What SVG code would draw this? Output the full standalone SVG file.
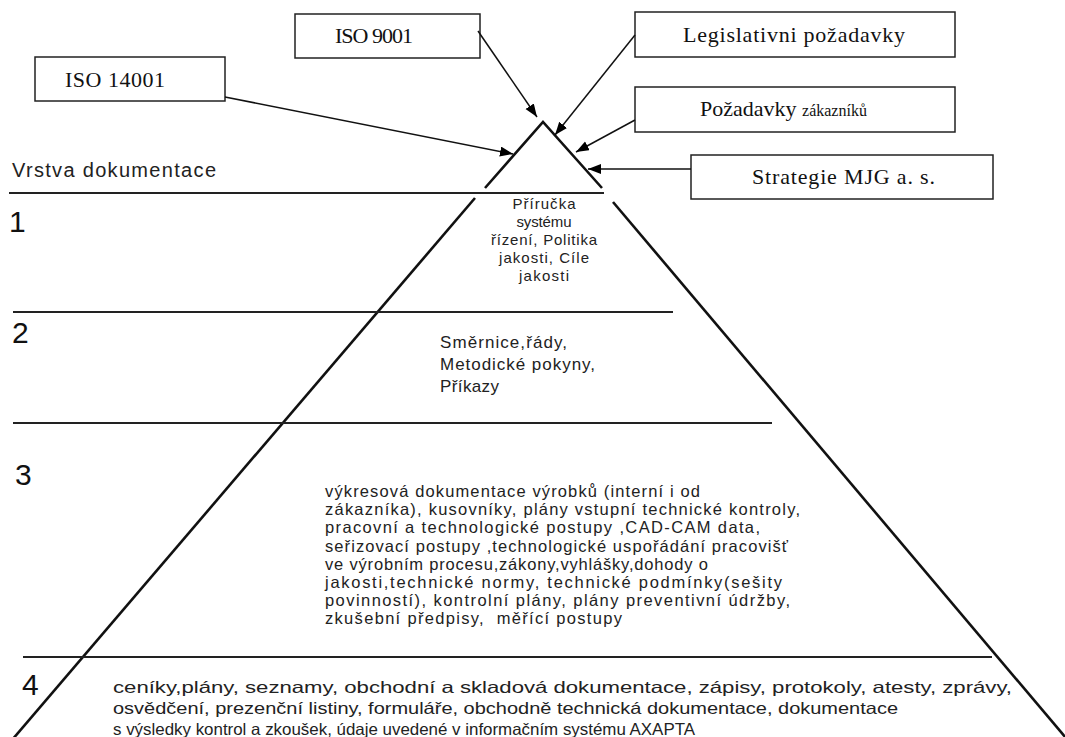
<svg xmlns="http://www.w3.org/2000/svg" width="1065" height="737" viewBox="0 0 1065 737">
<defs>
<marker id="ah" markerUnits="userSpaceOnUse" markerWidth="14" markerHeight="12" refX="13" refY="5" orient="auto">
<path d="M0,0 L13,5 L0,10 z" fill="#000"/>
</marker>
<style>
.box{fill:#fff;stroke:#222;stroke-width:1.5}
.bt{font-family:"Liberation Serif","Times New Roman",serif;font-size:22px;fill:#111}
.conn{stroke:#111;stroke-width:1.5;fill:none;marker-end:url(#ah)}
.sep{stroke:#222;stroke-width:1.8}
.leg{stroke:#111;stroke-width:2.6;fill:none}
.num{font-family:"Liberation Sans",Arial,sans-serif;font-size:30px;fill:#111}
.lab{font-family:"Liberation Sans",Arial,sans-serif;font-size:20px;fill:#222}
.t1{font-family:"Liberation Sans",Arial,sans-serif;font-size:15px;fill:#222}
.t2{font-family:"Liberation Sans",Arial,sans-serif;font-size:17px;fill:#222}
.t3{font-family:"Liberation Sans",Arial,sans-serif;font-size:16.5px;fill:#222}
.t4{font-family:"Liberation Sans",Arial,sans-serif;font-size:16.5px;fill:#222}
</style>
</defs>
<rect width="1065" height="737" fill="#fff"/>

<g id="pyramid">
<polyline class="leg" points="485,188 543,122 602,188"/>
<line class="leg" x1="475" y1="198" x2="12" y2="740"/>
<line class="leg" x1="613" y1="202" x2="1066" y2="738"/>
<line class="sep" x1="9" y1="193" x2="604" y2="193"/>
<line class="sep" x1="13" y1="312" x2="673" y2="312"/>
<line class="sep" x1="13" y1="423" x2="772" y2="423"/>
<line class="sep" x1="23" y1="657" x2="992" y2="657"/>
</g>

<g id="layer-labels">
<text class="lab" x="12" y="177" textLength="204">Vrstva dokumentace</text>
<text class="num" x="9" y="232">1</text>
<text class="num" x="12" y="343">2</text>
<text class="num" x="15" y="485">3</text>
<text class="num" x="22" y="695">4</text>
</g>

<g id="layer1" class="t1" text-anchor="middle">
<text x="544" y="209" textLength="63">Příručka</text>
<text x="544" y="227" textLength="55">systému</text>
<text x="544" y="245" textLength="106">řízení, Politika</text>
<text x="544" y="263" textLength="90">jakosti, Cíle</text>
<text x="544" y="281" textLength="50">jakosti</text>
</g>

<g id="layer2" class="t2">
<text x="440" y="348" textLength="127">Směrnice,řády,</text>
<text x="440" y="370" textLength="155">Metodické pokyny,</text>
<text x="440" y="392" textLength="59">Příkazy</text>
</g>

<g id="layer3" class="t3">
<text x="325" y="497" textLength="375">výkresová dokumentace výrobků (interní i od</text>
<text x="325" y="515" textLength="475">zákazníka), kusovníky, plány vstupní technické kontroly,</text>
<text x="325" y="533" textLength="435">pracovní a technologické postupy ,CAD-CAM data,</text>
<text x="325" y="552" textLength="463">seřizovací postupy ,technologické uspořádání pracovišť</text>
<text x="325" y="570" textLength="383">ve výrobním procesu,zákony,vyhlášky,dohody o</text>
<text x="325" y="588" textLength="457">jakosti,technické normy, technické podmínky(sešity</text>
<text x="325" y="606" textLength="465">povinností), kontrolní plány, plány preventivní údržby,</text>
<text x="325" y="624" textLength="297" xml:space="preserve">zkušební předpisy,  měřící postupy</text>
</g>

<g id="layer4" class="t4">
<text x="113" y="693" textLength="899" lengthAdjust="spacingAndGlyphs">ceníky,plány, seznamy, obchodní a skladová dokumentace, zápisy, protokoly, atesty, zprávy,</text>
<text x="113" y="714" textLength="785" lengthAdjust="spacingAndGlyphs">osvědčení, prezenční listiny, formuláře, obchodně technická dokumentace, dokumentace</text>
<text x="113" y="735" textLength="582" lengthAdjust="spacingAndGlyphs">s výsledky kontrol a zkoušek, údaje uvedené v informačním systému AXAPTA</text>
</g>

<g id="iso14001">
<rect class="box" x="35" y="57" width="190" height="44"/>
<text class="bt" x="65" y="87" textLength="100">ISO 14001</text>
</g>
<g id="iso9001">
<rect class="box" x="295" y="14" width="185" height="44"/>
<text class="bt" x="335" y="43" textLength="78">ISO 9001</text>
</g>
<g id="legislativni">
<rect class="box" x="635" y="12" width="320" height="45"/>
<text class="bt" x="683" y="42" textLength="222">Legislativni požadavky</text>
</g>
<g id="pozadavky">
<rect class="box" x="635" y="87" width="320" height="45"/>
<text class="bt" x="700" y="116"><tspan>Požadavky </tspan><tspan font-size="16">zákazníků</tspan></text>
</g>
<g id="strategie">
<rect class="box" x="691" y="155" width="302" height="44"/>
<text class="bt" x="752" y="184" textLength="183">Strategie MJG a. s.</text>
</g>

<g id="connectors">
<line class="conn" x1="225" y1="97" x2="513" y2="154"/>
<line class="conn" x1="478" y1="31" x2="537" y2="117"/>
<line class="conn" x1="635" y1="35" x2="555" y2="135"/>
<line class="conn" x1="635" y1="120" x2="576" y2="152"/>
<line class="conn" x1="691" y1="169" x2="588" y2="169"/>
</g>
</svg>
